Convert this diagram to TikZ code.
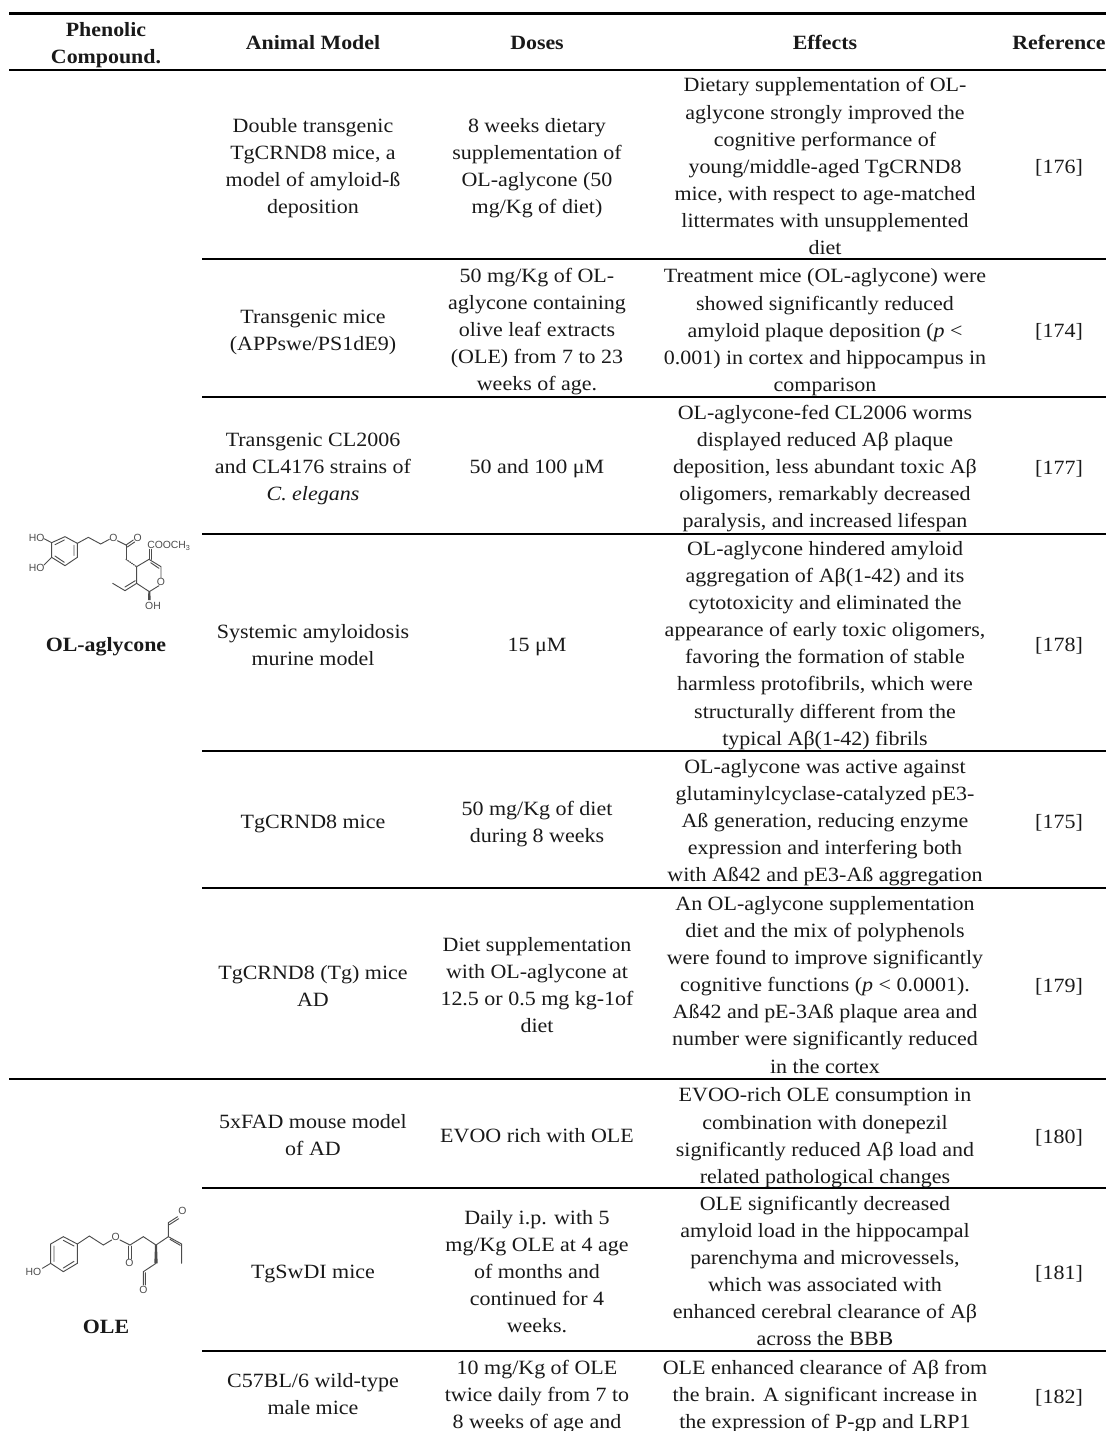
\documentclass[tikz,border=0pt]{standalone}
\usepackage{fontspec}
\setmainfont[FakeStretch=1.085,BoldFeatures={FakeStretch=1.08}]{Liberation Serif}
\newfontfamily\molfont{Liberation Sans}
\newcommand\ls{\rule[-6.8pt]{0pt}{20.3pt}}
\newcommand\cl[4]{\node[cellbox] (#1) at (#2,#3-18) {\ls #4\ls};}
\definecolor{molgray}{gray}{0.3}
\tikzset{
  cellbox/.style={anchor=north,inner sep=0pt,align=center,text=black!90,font=\fontsize{15.2}{20.35}\selectfont},
  headbox/.style={cellbox,font=\fontsize{15.2}{20.35}\selectfont\bfseries},
  rulethin/.style={line width=1.5pt,black},
  rulethick/.style={line width=2.6pt,black},
  bond/.style={line width=0.7pt,molgray,line cap=round},
  atom/.style={inner sep=0pt,text=molgray,font=\molfont\fontsize{7.8}{8}\selectfont},
}
\begin{document}
\begin{tikzpicture}[x=0.75pt,y=-0.75pt]
\useasboundingbox (0,0) rectangle (1106,1431);
% rules
\draw[rulethick] (9,13.5) -- (1106,13.5);
\draw[rulethin] (9,70) -- (1106,70);
\foreach \yy in {259,396.5,534,751,888,1188,1351} \draw[rulethin] (202,\yy) -- (1106,\yy);
\draw[rulethin] (9,1079) -- (1106,1079);
% header
\node[headbox] (h1) at (106,36-18) {\ls Phenolic\\Compound.\ls};
\node[headbox] (h2) at (313,49-18) {\ls Animal Model\ls};
\node[headbox] (h3) at (537,49-18) {\ls Doses\ls};
\node[headbox] (h4) at (825,49-18) {\ls Effects\ls};
\node[headbox] (h5) at (1059,49-18) {\ls Reference\ls};
% compounds
\node[headbox] (ola) at (106,651-18) {\ls OL-aglycone\ls};
\node[headbox] (ole) at (106,1333-18) {\ls OLE\ls};
% row 1
\cl{a1}{313}{132}{Double transgenic\\TgCRND8 mice, a\\model of amyloid-ß\\deposition}
\cl{d1}{537}{132}{8 weeks dietary\\supplementation of\\OL-aglycone (50\\mg/Kg of diet)}
\cl{e1}{825}{91.7}{Dietary supplementation of OL-\\aglycone strongly improved the\\cognitive performance of\\young/middle-aged TgCRND8\\mice, with respect to age-matched\\littermates with unsupplemented\\diet}
\cl{r1}{1059}{173}{[176]}
% row 2
\cl{a2}{313}{323}{Transgenic mice\\(APPswe/PS1dE9)}
\cl{d2}{537}{282}{50 mg/Kg of OL-\\aglycone containing\\olive leaf extracts\\(OLE) from 7 to 23\\weeks of age.}
\cl{e2}{825}{282.7}{Treatment mice (OL-aglycone) were\\showed significantly reduced\\amyloid plaque deposition (\textit{p} <\\0.001) in cortex and hippocampus in\\comparison}
\cl{r2}{1059}{337}{[174]}
% row 3
\cl{a3}{313}{446}{Transgenic CL2006\\and CL4176 strains of\\\textit{C. elegans}}
\cl{d3}{537}{473}{50 and 100 μM}
\cl{e3}{825}{419}{OL-aglycone-fed CL2006 worms\\displayed reduced Aβ plaque\\deposition, less abundant toxic Aβ\\oligomers, remarkably decreased\\paralysis, and increased lifespan}
\cl{r3}{1059}{474}{[177]}
% row 4
\cl{a4}{313}{638}{Systemic amyloidosis\\murine model}
\cl{d4}{537}{651}{15 μM}
\cl{e4}{825}{555}{OL-aglycone hindered amyloid\\aggregation of Aβ(1-42) and its\\cytotoxicity and eliminated the\\appearance of early toxic oligomers,\\favoring the formation of stable\\harmless protofibrils, which were\\structurally different from the\\typical Aβ(1-42) fibrils}
\cl{r4}{1059}{651}{[178]}
% row 5
\cl{a5}{313}{828}{TgCRND8 mice}
\cl{d5}{537}{815}{50 mg/Kg of diet\\during 8 weeks}
\cl{e5}{825}{773}{OL-aglycone was active against\\glutaminylcyclase-catalyzed pE3-\\Aß generation, reducing enzyme\\expression and interfering both\\with Aß42 and pE3-Aß aggregation}
\cl{r5}{1059}{828}{[175]}
% row 6
\cl{a6}{313}{979}{TgCRND8 (Tg) mice\\AD}
\cl{d6}{537}{951}{Diet supplementation\\with OL-aglycone at\\12.5 or 0.5 mg kg-1of\\diet}
\cl{e6}{825}{910}{An OL-aglycone supplementation\\diet and the mix of polyphenols\\were found to improve significantly\\cognitive functions (\textit{p} < 0.0001).\\Aß42 and pE-3Aß plaque area and\\number were significantly reduced\\in the cortex}
\cl{r6}{1059}{992}{[179]}
% row 7
\cl{a7}{313}{1128}{5xFAD mouse model\\of AD}
\cl{d7}{537}{1142}{EVOO rich with OLE}
\cl{e7}{825}{1101.7}{EVOO-rich OLE consumption in\\combination with donepezil\\significantly reduced Aβ load and\\related pathological changes}
\cl{r7}{1059}{1143}{[180]}
% row 8
\cl{a8}{313}{1278}{TgSwDI mice}
\cl{d8}{537}{1224}{Daily i.p. with 5\\mg/Kg OLE at 4 age\\of months and\\continued for 4\\weeks.}
\cl{e8}{825}{1210}{OLE significantly decreased\\amyloid load in the hippocampal\\parenchyma and microvessels,\\which was associated with\\enhanced cerebral clearance of Aβ\\across the BBB}
\cl{r8}{1059}{1279}{[181]}
% row 9
\cl{a9}{313}{1387}{C57BL/6 wild-type\\male mice}
\cl{d9}{537}{1374}{10 mg/Kg of OLE\\twice daily from 7 to\\8 weeks of age and}
\cl{e9}{825}{1374}{OLE enhanced clearance of Aβ from\\the brain. A significant increase in\\the expression of P-gp and LRP1}
\cl{r9}{1059}{1403}{[182]}
% OL-aglycone structure (zoom coordinates, 3 units per pixel)
\begin{scope}[shift={(0,420)},xscale=1/3,yscale=1/3]
\draw[bond] (155,368)--(195,350)--(232,370)--(232,412)--(195,437)--(155,412)--cycle;
\draw[bond] (165,374)--(193,360) (222,376)--(222,406) (193,427)--(165,408);
\draw[bond] (155,368)--(132,356) (155,412)--(132,435);
\draw[bond] (232,370)--(265,352)--(302,372)--(328,358) (352,362)--(378,375);
\draw[bond] (378,375)--(400,360) (382,381)--(404,366);
\draw[bond] (378,375)--(378,418);
\draw[bond,densely dotted,line width=0.9pt] (378,418)--(410,440);
\draw[bond] (410,440)--(447,418)--(483,440)--(483,473) (477,497)--(448,515)--(410,490)--(410,440);
\draw[bond] (452,428)--(477,445);
\draw[bond] (447,418)--(447,388) (455,418)--(455,388);
\draw[bond] (410,490)--(375,512)--(338,490) (406,482)--(375,501);
\fill[molgray] (445,515)--(451,515)--(452,540)--(444,540)--cycle;
\node[atom] (m1) at (110,353) {HO};
\node[atom] (m2) at (110,445) {HO};
\node[atom] (m3) at (340,353) {O};
\node[atom] (m4) at (413,353) {O};
\node[atom,anchor=west] (m5) at (441,378) {COOCH\textsubscript{3}};
\node[atom] (m6) at (483,487) {O};
\node[atom] (m7) at (459,557) {OH};
\end{scope}
% OLE structure
\begin{scope}[shift={(0,1100)},xscale=1/3,yscale=1/3]
\draw[bond] (152,432)--(190,410)--(232,432)--(232,490)--(190,515)--(152,490)--cycle;
\draw[bond] (162,484)--(162,438) (190,421)--(222,438) (222,484)--(190,504);
\draw[bond] (152,490)--(127,505);
\draw[bond] (232,432)--(268,408)--(310,435)--(335,420) (360,420)--(390,435)--(430,410)--(468,435);
\draw[bond] (385,438)--(385,476) (394,438)--(394,476);
\fill[molgray] (465,435)--(471,435)--(473,490)--(463,490)--cycle;
\draw[bond] (468,490)--(430,515)--(430,555) (436,518)--(436,555);
\draw[bond] (468,435)--(505,410)--(505,368)--(533,350) (508,374)--(536,356);
\draw[bond] (505,410)--(545,432)--(545,490) (510,418)--(541,436);
\node[atom] (m8) at (100,517) {HO};
\node[atom] (m9) at (347,410) {O};
\node[atom] (m10) at (388,490) {O};
\node[atom] (m11) at (430,570) {O};
\node[atom] (m12) at (547,333) {O};
\end{scope}
\end{tikzpicture}
\end{document}
